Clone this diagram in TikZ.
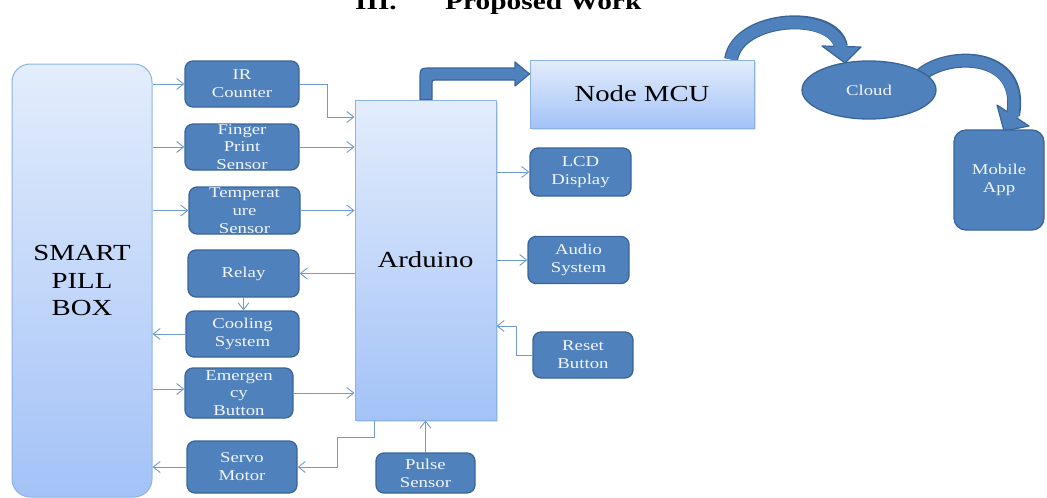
\documentclass[tikz,border=0pt]{standalone}
\usepackage{fontspec}
\setmainfont[FakeStretch=1.25]{Liberation Serif}
\usetikzlibrary{arrows.meta,shapes.geometric,shadows,backgrounds,calc}
\definecolor{bfill}{HTML}{4F81BD}
\definecolor{bdark}{HTML}{3A6598}
\definecolor{gtop}{HTML}{E3EDFC}
\definecolor{gbot}{HTML}{A3C2F7}
\definecolor{lborder}{HTML}{8DB3E2}
\definecolor{linec}{HTML}{6F9AD3}
\definecolor{dtext}{HTML}{F2F5FA}
\begin{document}
\begin{tikzpicture}[x=1pt,y=-1pt,
  darkbox/.style={draw=bdark, line width=1.3pt, fill=bfill, rounded corners=8pt, text=dtext, align=center, inner sep=0pt, font=\fontsize{15}{17.8}\selectfont},
  lightbox/.style={draw=lborder, line width=1pt, top color=gtop, bottom color=gbot, inner sep=0pt, align=center, font=\fontsize{23}{27.5}\selectfont},
  shadowed/.style={drop shadow={shadow xshift=1.5pt, shadow yshift=-1.5pt, opacity=0.25}},
  conn/.style={draw=linec, line width=0.9pt, -{Straight Barb[length=7pt,width=11pt]}},
  band/.style={line width=14pt, draw=bdark},
  bandin/.style={line width=11.5pt, draw=bfill, shorten >=-2.5pt},
  head/.style={fill=bfill, draw=bdark, line width=1.2pt, line join=round},
  titletext/.style={anchor=base west, inner sep=0pt, font=\bfseries\fontsize{23.5}{28}\selectfont},
]
\useasboundingbox (0,0) rectangle (1047,498);

% title
\node[titletext] (t1) at (355,9) {III.};
\node[titletext] (t2) at (445,9) {Proposed Work};

% main blocks
\node[lightbox, rounded corners=18pt, minimum width=140pt, minimum height=433pt] (smart) at (82,280.5) {SMART\\PILL\\BOX};
\node[lightbox, shadowed, minimum width=141pt, minimum height=320pt] (ard) at (425.5,260) {Arduino};
\node[lightbox, shadowed, minimum width=224pt, minimum height=68pt] (mcu) at (642,94) {Node MCU};

% dark boxes
\node[darkbox, minimum width=114pt, minimum height=46pt] (ir) at (242,84) {IR\\Counter};
\node[darkbox, minimum width=114pt, minimum height=46pt] (finger) at (242,147) {Finger\\Print\\Sensor};
\node[darkbox, minimum width=111pt, minimum height=47pt] (temp) at (244.5,210.5) {Temperat\\ure\\Sensor};
\node[darkbox, minimum width=111pt, minimum height=47pt] (relay) at (243.5,273.5) {Relay};
\node[darkbox, minimum width=113pt, minimum height=46pt] (cool) at (242.5,334) {Cooling\\System};
\node[darkbox, minimum width=108pt, minimum height=50pt] (emerg) at (239,393) {Emergen\\cy\\Button};
\node[darkbox, minimum width=110pt, minimum height=52pt] (servo) at (242,467) {Servo\\Motor};
\node[darkbox, minimum width=101pt, minimum height=48pt] (lcd) at (580.5,172) {LCD\\Display};
\node[darkbox, minimum width=101pt, minimum height=47pt] (audio) at (578.5,260) {Audio\\System};
\node[darkbox, minimum width=100pt, minimum height=46pt] (reset) at (583,355) {Reset\\Button};
\node[darkbox, minimum width=99pt, minimum height=40pt] (pulse) at (425.5,473) {Pulse\\Sensor};
\node[darkbox, ellipse, minimum width=134pt, minimum height=58pt] (cloud) at (869,90) {Cloud};
\node[darkbox, rounded corners=12pt, minimum width=90pt, minimum height=100pt] (mobile) at (999,180) {Mobile\\App};

% thin connectors
\draw[conn] (smart.east |- ir) -- (ir.west);
\draw[conn] (ir.east) -- ++(28,0) |- (ard.west |- 0,117);
\draw[conn] (smart.east |- finger) -- (finger.west);
\draw[conn] (finger.east) -- (ard.west |- finger);
\draw[conn] (smart.east |- temp) -- (temp.west);
\draw[conn] (temp.east) -- (ard.west |- temp);
\draw[conn] (ard.west |- relay) -- (relay.east);
\draw[conn] (relay.south) -- (relay.south |- cool.north);
\draw[conn] (cool.west) -- (smart.east |- cool);
\draw[conn] (smart.east |- 0,389) -- (emerg.west |- 0,389);
\draw[conn] (emerg.east) -- (ard.west |- emerg);
\draw[conn] (ard.south -| 374,0) |- (337,437) |- (servo.east);
\draw[conn] (servo.west) -- (smart.east |- servo);
\draw[conn] (pulse.north) -- (pulse.north |- ard.south);
\draw[conn] (ard.east |- lcd) -- (lcd.west);
\draw[conn] (ard.east |- audio) -- (audio.west);
\draw[conn] (reset.west) -| (516,326) -- (ard.east |- 0,326);

% block arrows
\begin{scope}[on background layer]
  \filldraw[head] (420,0 |- ard.north) -- (420,80) .. controls (420,68) .. (432,68) -- (515,68) -- (515,62)
     -- (mcu.west |- 0,74) -- (515,86) -- (515,80) -- (435,80) .. controls (432,80) .. (432,83) -- (432,0 |- ard.north) -- cycle;
  \draw[band] (731,0 |- mcu.north) .. controls (738,15) and (835,10) .. (841,47);
  \filldraw[head] (822,46) -- (845,63) -- (861,47) -- cycle;
  \draw[bandin] (731,0 |- mcu.north) .. controls (738,15) and (835,10) .. (841,47);
  \draw[band] (cloud.center) ++(51,-14) .. controls (945,52) and (1025,50) .. (1013,115);
  \filldraw[head] (997,105) -- (1004,131) -- (1029,126) -- cycle;
  \draw[bandin] (cloud.center) ++(51,-14) .. controls (945,52) and (1025,50) .. (1013,115);
\end{scope}
\end{tikzpicture}
\end{document}
